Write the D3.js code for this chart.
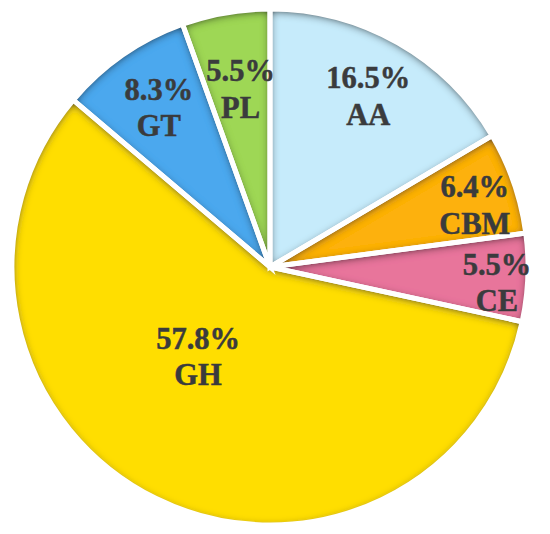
<!DOCTYPE html>
<html>
<head>
<meta charset="utf-8">
<script src="https://cdn.jsdelivr.net/npm/d3@7"></script>
<style>
  html, body { margin: 0; padding: 0; background: #ffffff; }
  svg { display: block; }
</style>
</head>
<body>
<svg id="chart" width="550" height="534"></svg>
<script>
// ---- data ----
const categories = ["AA", "CBM", "CE", "GH", "GT", "PL"];
const percents   = [16.5, 6.4, 5.5, 57.8, 8.3, 5.5];
const colors     = ["#C6EBFB", "#FDB10D", "#E8749B", "#FFDE05", "#4CA8EE", "#9ED755"];

// ---- layout ----
const W = 550, H = 534;
const cx = 270, cy = 267, R = 258;
// label placement ("best fit"): distance as fraction of radius, angular shift in degrees
const labelFrac  = [0.764, 0.829, 0.882, 0.446, 0.752, 0.698];
const labelShift = [0.2, 2.3, 1.6, 12.4, -0.2, 0.5];

const svg = d3.select("#chart");
const defs = svg.append("defs");

const f = defs.append("filter").attr("id", "inner")
  .attr("x", "-20%").attr("y", "-20%").attr("width", "140%").attr("height", "140%");
f.append("feComponentTransfer").attr("in", "SourceAlpha").attr("result", "inv")
  .append("feFuncA").attr("type", "table").attr("tableValues", "1 0");
f.append("feGaussianBlur").attr("in", "inv").attr("stdDeviation", 5).attr("result", "blur");
f.append("feOffset").attr("in", "blur").attr("dx", 0).attr("dy", 2).attr("result", "off0");
const boost = f.append("feComponentTransfer").attr("in", "off0").attr("result", "off");
boost.append("feFuncA").attr("type", "linear").attr("slope", 1.7).attr("intercept", 0);
f.append("feFlood").attr("flood-color", "#202020").attr("flood-opacity", 0.8).attr("result", "col");
f.append("feComposite").attr("in", "col").attr("in2", "off").attr("operator", "in").attr("result", "sh");
f.append("feComposite").attr("in", "sh").attr("in2", "SourceAlpha").attr("operator", "in").attr("result", "sh2");
const m = f.append("feMerge");
m.append("feMergeNode").attr("in", "SourceGraphic");
m.append("feMergeNode").attr("in", "sh2");

const data = categories.map((c, i) => ({ name: c, value: percents[i], color: colors[i], idx: i }));

const pie = d3.pie().value(d => d.value).sort(null);
const arcs = pie(data);
const arc = d3.arc().innerRadius(0).outerRadius(R);

const g = svg.append("g").attr("transform", `translate(${cx},${cy})`);

g.selectAll("path.fill").data(arcs).join("path")
  .attr("class", "fill")
  .attr("d", arc)
  .attr("fill", d => d.data.color)
  .attr("filter", "url(#inner)");

g.selectAll("path.edge").data(arcs).join("path")
  .attr("class", "edge")
  .attr("d", arc)
  .attr("fill", "none")
  .attr("stroke", "#ffffff")
  .attr("stroke-width", 5)
  .attr("stroke-linejoin", "miter");

const fmt = d3.format(".1f");
const labels = g.selectAll("text.lbl").data(arcs).join("text")
  .attr("class", "lbl")
  .attr("transform", d => {
    const i = d.data.idx;
    const r = R * labelFrac[i];
    const a = (d.startAngle + d.endAngle) / 2 + labelShift[i] * Math.PI / 180;
    return `translate(${r * Math.sin(a)},${-r * Math.cos(a)})`;
  })
  .attr("text-anchor", "middle")
  .attr("font-family", "'Liberation Serif', 'Times New Roman', serif")
  .attr("font-weight", "bold")
  .attr("font-size", 30.5)
  .attr("fill", "#3a3b3d")
  .attr("stroke", "#3a3b3d")
  .attr("stroke-width", 0.5);

labels.append("tspan").attr("x", 0).attr("y", -8).text(d => fmt(d.data.value) + "%");
labels.append("tspan").attr("x", 0).attr("y", 28.5).text(d => d.data.name);
</script>
</body>
</html>
